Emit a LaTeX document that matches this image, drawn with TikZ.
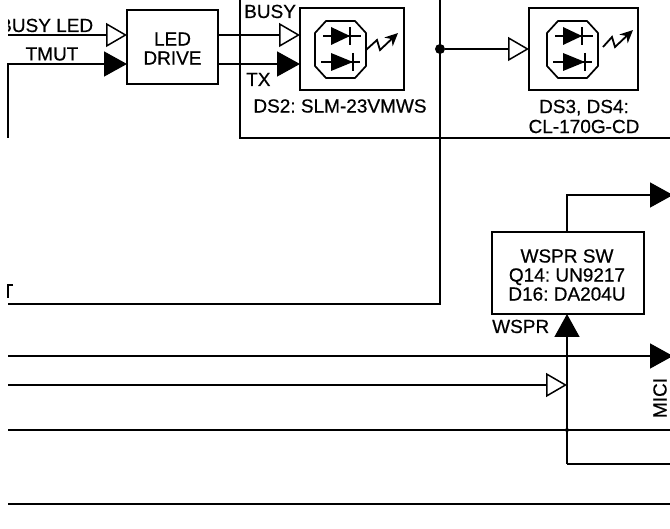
\documentclass[tikz,border=0pt]{standalone}
\usepackage{fontspec}
\setmainfont[FakeBold=0.5]{Liberation Sans}
\usetikzlibrary{arrows.meta,calc}
\tikzset{
  x=1pt,y=-1pt,
  wire/.style={line width=1.5pt,line join=miter},
  hollow/.style={wire,-{Triangle[open,fill=white,length=21pt,width=24pt,line width=1.5pt]}},
  solid/.style={wire,-{Triangle[length=23pt,width=25pt]}},
  blockbox/.style={draw,line width=1.6pt,inner sep=0pt},
  lbl/.style={inner sep=0pt,align=center,font=\fontsize{19}{19}\selectfont\frenchspacing},
  dot/.style={circle,fill=black,inner sep=0pt,minimum size=#1},
  ledglyph/.pic={
    \draw[line width=1.7pt] (326,21)--(355,21)--(366,33)--(366,66)--(355,78)--(326,78)--(315,66)--(315,33)--cycle;
    \draw[line width=1.4pt] (323,36)--(361,36) (350,27)--(350,45) (321,62)--(360,62) (353,53)--(353,71);
    \fill (331,27)--(350,36)--(331,45)--cycle (331,53)--(353,62)--(331,71)--cycle;
  }
}
\begin{document}
\begin{tikzpicture}
\useasboundingbox (0,0) rectangle (670,529);
\clip (0,0) rectangle (670,529);

% blocks
\node[blockbox,minimum width=91pt,minimum height=74pt] (led) at (172.5,47) {};
\node[lbl] (ledtxt) at (172.5,48.5) {LED\\DRIVE};
\node[blockbox,minimum width=104pt,minimum height=82pt] (dstwo) at (352,49) {};
\node[blockbox,minimum width=109pt,minimum height=82pt] (dsthree) at (583.5,49) {};
\node[blockbox,minimum width=152pt,minimum height=82pt] (wspr) at (568,273) {};
\node[lbl] (wsprtxt) at (567,275) {WSPR SW\\Q14: UN9217\\D16: DA204U};

% free ends
\coordinate (busyin) at (8,35);
\coordinate (ledbusy) at (127,35);
\coordinate (tmutbot) at (8,138);
\coordinate (tmutcor) at (8,64);
\coordinate (ledtx) at (127,64);
\coordinate (ledoa) at (218,35);
\coordinate (ledob) at (218,64);
\coordinate (dsbusy) at (300,35);
\coordinate (dstx) at (300,64);
\coordinate (ltop) at (240,-2);
\coordinate (lcor) at (240,138);
\coordinate (lend) at (672,138);
\coordinate (vtop) at (440,-2);
\coordinate (vcor) at (440,304);
\coordinate (vleft) at (8,304);
\node[dot=10pt] (jn) at (440,49) {};
\coordinate (dsthreein) at (529,49);
\coordinate (wtop) at (567,232);
\coordinate (wcor) at (567,195);
\coordinate (wout) at (673,195);
\coordinate (wbot) at (567,314);
\coordinate (wstem) at (567,464);
\coordinate (wend) at (672,464);
\coordinate (aleft) at (8,356);
\coordinate (aright) at (673,356);
\coordinate (bleft) at (8,385);
\coordinate (bright) at (567,385);
\coordinate (cleft) at (8,430);
\coordinate (cright) at (672,430);
\node[dot=4pt] (cjn) at (567,430) {};
\coordinate (dleft) at (8,504);
\coordinate (dright) at (672,504);

% connectors
\draw[hollow] (busyin) -- (ledbusy);
\draw[solid] (tmutbot) -- (tmutcor) -- (ledtx);
\draw[hollow] (ledoa) -- (dsbusy);
\draw[solid] (ledob) -- (dstx);
\draw[wire] (ltop) -- (lcor) -- (lend);
\draw[wire] (vtop) -- (vcor) -- (vleft);
\draw[hollow] (jn) -- (dsthreein);
\draw[solid] (wtop) -- (wcor) -- (wout);
\draw[solid] (wstem) -- (wbot);
\draw[wire] (wstem) -- (wend);
\draw[solid] (aleft) -- (aright);
\draw[hollow] (bleft) -- (bright);
\draw[wire] (cleft) -- (cright);
\draw[wire] (dleft) -- (dright);

% clipped fragment at the left edge
\draw[line width=2pt] (13,285.5) -- (8,285.5) -- (8,298);

% LED glyphs
\pic {ledglyph};
\pic[xshift=232pt] {ledglyph};
\draw[line width=1.8pt,-{Stealth[length=13pt,width=12pt]}] (366,50) -- (377,40) -- (380,50) -- (398,33);
\draw[line width=1.8pt,-{Stealth[length=13pt,width=12pt]}] (603,47) -- (612,37) -- (615,47) -- (633,30);

% labels
\begin{scope}
\clip (8,0) rectangle (130,50);
\node[lbl,anchor=base west] (tbusyled) at (-1,32) {BUSY LED};
\end{scope}
\node[lbl] (ttmut) at (52,54) {TMUT};
\node[lbl,anchor=base west] (tbusy) at (244,18) {BUSY};
\node[lbl,anchor=base west] (ttx) at (246,86) {TX};
\node[lbl] (tds) at (340,106) {DS2: SLM-23VMWS};
\node[font=\fontsize{19}{20}\selectfont\frenchspacing,inner sep=0pt,align=center] (tdst) at (584,116.5) {DS3, DS4:\\CL-170G-CD};
\node[lbl,anchor=base west] (twspr) at (492,333) {WSPR};
\node[lbl,rotate=90] (tmici) at (660,398) {MICI};
\end{tikzpicture}
\end{document}
